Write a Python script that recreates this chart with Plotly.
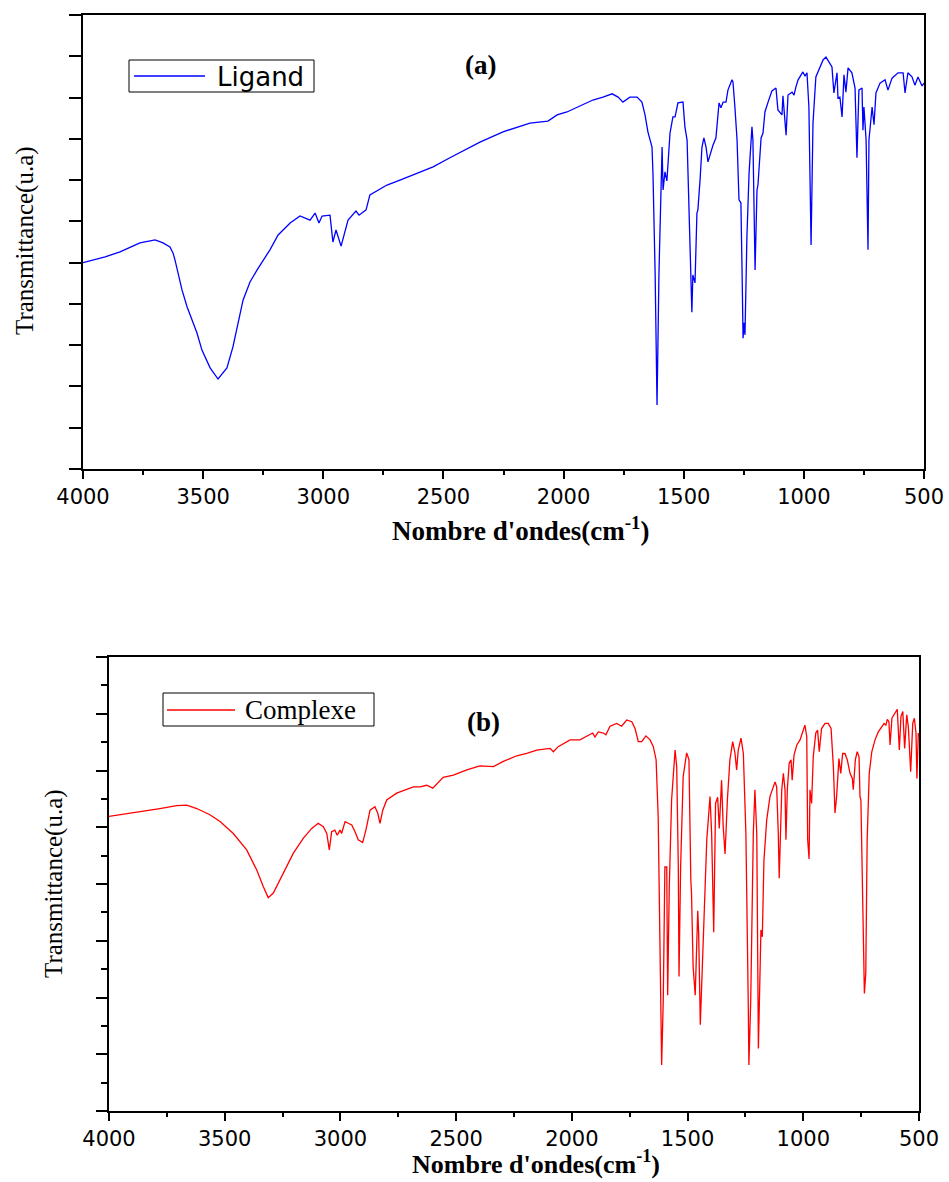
import plotly.graph_objects as go

# ---------------- data ----------------
x_tick_values = [4000, 3500, 3000, 2500, 2000, 1500, 1000, 500]

ligand_wn = [
    4000, 3908, 3846, 3763, 3700, 3667, 3638, 3625, 3617, 3588,
    3567, 3546, 3526, 3505, 3471, 3438, 3401, 3376, 3355, 3334,
    3305, 3276, 3222, 3188, 3138, 3097, 3055, 3034, 3018, 3005,
    2972, 2960, 2947, 2926, 2897, 2864, 2851, 2822, 2806, 2735,
    2681, 2610, 2543, 2473, 2402, 2348, 2252, 2140, 2065, 2027,
    1986, 1932, 1903, 1878, 1836, 1798, 1773, 1753, 1724, 1694,
    1674, 1661, 1649, 1632, 1628, 1619, 1611, 1603, 1590, 1586,
    1578, 1570, 1557, 1545, 1536, 1524, 1503, 1495, 1486, 1478,
    1470, 1466, 1462, 1453, 1445, 1441, 1432, 1424, 1416, 1407,
    1399, 1386, 1378, 1366, 1353, 1345, 1336, 1324, 1316, 1299,
    1295, 1287, 1278, 1270, 1262, 1257, 1253, 1249, 1245, 1237,
    1228, 1216, 1212, 1203, 1195, 1191, 1178, 1170, 1162, 1149,
    1133, 1116, 1108, 1091, 1087, 1074, 1066, 1049, 1041, 1033,
    1024, 1004, 995, 987, 979, 970, 962, 950, 933, 920,
    908, 895, 883, 875, 862, 858, 850, 841, 833, 825,
    816, 800, 787, 779, 771, 758, 754, 750, 741, 733,
    729, 716, 708, 700, 683, 662, 650, 633, 608, 587,
    579, 567, 550, 538, 525, 508, 500,
]
ligand_t = [
    50.0, 51.4, 52.6, 54.8, 55.5, 54.8, 53.8, 52.3, 50.6, 43.4,
    39.3, 36.1, 33.0, 28.8, 24.5, 21.8, 24.5, 29.6, 35.4, 40.9,
    45.3, 48.2, 53.1, 56.7, 59.6, 61.3, 60.3, 62.0, 59.6, 61.3,
    61.5, 55.0, 57.9, 54.0, 60.3, 62.5, 61.5, 62.8, 66.4, 68.8,
    70.0, 71.7, 73.2, 75.4, 77.5, 79.2, 81.7, 83.8, 84.3, 85.8,
    86.5, 88.0, 88.7, 89.4, 90.1, 90.9, 90.1, 88.9, 90.1, 90.1,
    88.9, 85.8, 81.7, 78.0, 71.7, 47.5, 15.5, 47.5, 78.0, 67.6,
    72.0, 69.8, 81.4, 85.3, 85.3, 88.7, 88.9, 82.9, 79.7, 63.5,
    47.5, 38.0, 47.0, 45.1, 62.0, 62.8, 70.0, 78.0, 80.2, 78.0,
    74.4, 77.3, 78.5, 80.2, 88.7, 87.5, 88.9, 88.9, 91.8, 94.3,
    93.8, 87.7, 79.7, 65.2, 64.5, 47.5, 31.7, 35.4, 32.5, 56.2,
    71.7, 82.9, 79.7, 48.2, 67.6, 68.8, 80.2, 81.4, 86.5, 88.9,
    91.6, 92.3, 87.0, 85.8, 90.4, 80.9, 90.6, 91.3, 90.6, 92.6,
    94.3, 96.2, 95.2, 96.0, 87.7, 54.3, 83.8, 95.0, 97.4, 99.1,
    99.8, 98.6, 97.4, 91.1, 96.0, 89.9, 90.1, 85.3, 95.5, 91.3,
    97.2, 96.0, 92.3, 75.4, 91.8, 92.3, 82.1, 87.7, 79.7, 53.1,
    79.7, 87.7, 83.4, 91.1, 93.5, 94.3, 91.8, 94.7, 96.0, 96.0,
    91.1, 96.0, 95.0, 93.0, 95.0, 92.8, 93.5,
]

complexe_wn = [
    4000, 3866, 3780, 3708, 3664, 3621, 3564, 3520, 3463, 3405,
    3362, 3333, 3312, 3290, 3247, 3204, 3160, 3124, 3096, 3074,
    3059, 3048, 3038, 3024, 3014, 3002, 2995, 2980, 2966, 2951,
    2937, 2923, 2904, 2890, 2872, 2851, 2839, 2829, 2817, 2800,
    2757, 2721, 2685, 2656, 2627, 2601, 2556, 2512, 2454, 2397,
    2339, 2296, 2238, 2195, 2152, 2094, 2080, 2059, 2008, 1965,
    1936, 1910, 1900, 1886, 1864, 1853, 1835, 1806, 1785, 1763,
    1741, 1727, 1713, 1698, 1680, 1662, 1648, 1636, 1627, 1619,
    1612, 1605, 1598, 1590, 1586, 1579, 1569, 1554, 1547, 1540,
    1537, 1530, 1519, 1504, 1494, 1486, 1483, 1476, 1467, 1456,
    1452, 1445, 1432, 1417, 1403, 1396, 1387, 1379, 1370, 1363,
    1353, 1346, 1338, 1328, 1317, 1305, 1295, 1288, 1281, 1269,
    1259, 1248, 1238, 1235, 1227, 1216, 1209, 1201, 1194, 1187,
    1183, 1177, 1170, 1158, 1144, 1122, 1115, 1108, 1104, 1093,
    1086, 1079, 1075, 1069, 1061, 1053, 1048, 1040, 1028, 1014,
    1000, 993, 985, 981, 975, 971, 964, 957, 946, 938,
    931, 921, 906, 892, 880, 870, 863, 856, 846, 838,
    830, 820, 810, 798, 788, 784, 775, 767, 759, 755,
    751, 743, 736, 730, 724, 715, 704, 690, 676, 661,
    651, 643, 637, 630, 625, 617, 604, 594, 585, 578,
    570, 562, 553, 546, 536, 527, 520, 513, 509, 503,
    500,
]
complexe_t = [
    51.9, 52.7, 53.3, 53.8, 53.9, 53.3, 52.2, 51.0, 48.9, 46.0,
    42.5, 39.5, 37.6, 38.4, 41.9, 45.4, 48.1, 49.8, 50.7, 50.1,
    48.9, 46.0, 49.2, 49.5, 48.6, 49.5, 48.9, 51.0, 50.7, 50.4,
    49.2, 47.8, 47.3, 49.5, 53.0, 53.6, 52.5, 50.7, 53.0, 54.8,
    56.0, 56.6, 57.1, 57.1, 57.4, 56.9, 58.8, 59.2, 60.1, 60.8,
    60.7, 61.6, 62.6, 63.0, 63.6, 63.9, 63.3, 64.2, 65.4, 65.4,
    66.0, 66.6, 65.9, 66.8, 66.6, 66.3, 67.8, 68.3, 67.8, 68.9,
    68.6, 67.4, 65.1, 65.1, 66.1, 65.4, 64.2, 61.9, 51.9, 31.3,
    8.1, 19.6, 43.0, 43.0, 20.4, 39.5, 54.8, 63.6, 60.7, 43.0,
    23.7, 43.0, 58.9, 63.1, 61.9, 40.7, 38.4, 25.4, 20.4, 35.3,
    31.3, 15.2, 31.3, 47.8, 55.4, 48.9, 31.5, 54.2, 55.3, 49.8,
    58.3, 50.1, 45.3, 54.8, 61.9, 65.1, 63.0, 60.1, 63.6, 65.7,
    63.0, 48.9, 19.6, 8.1, 19.6, 48.9, 56.6, 48.9, 11.0, 25.4,
    31.9, 30.7, 44.2, 51.3, 55.4, 58.0, 57.1, 48.9, 41.0, 56.6,
    59.5, 56.6, 47.8, 56.6, 61.3, 61.9, 58.3, 62.7, 64.5, 65.4,
    67.4, 68.0, 66.0, 47.8, 44.4, 56.6, 54.2, 62.4, 66.6, 67.1,
    63.3, 67.4, 68.3, 68.3, 67.4, 60.7, 52.5, 55.4, 62.1, 59.5,
    63.0, 63.0, 61.9, 59.5, 58.6, 56.6, 61.9, 63.3, 62.4, 55.4,
    54.8, 33.1, 20.7, 24.3, 47.8, 59.5, 63.3, 65.4, 66.8, 67.7,
    68.3, 68.0, 69.0, 68.6, 64.5, 69.2, 70.1, 70.8, 63.6, 69.5,
    70.4, 63.9, 69.8, 67.7, 59.8, 68.3, 69.2, 66.6, 58.6, 66.6,
    66.0,
]

series_names = ["Ligand", "Complexe"]
series_colors = ["#0000ff", "#ff0000"]

assert len(ligand_wn) == len(ligand_t)
assert len(complexe_wn) == len(complexe_t)

# ---------------- figure ----------------
W, H = 949, 1182
SERIF = "Liberation Serif"
SANS = "DejaVu Sans"


def px(x):
    return x / W


def py(y):
    return 1 - y / H


fig = go.Figure()
fig.add_trace(go.Scatter(
    x=ligand_wn, y=ligand_t, mode="lines", name=series_names[0],
    line=dict(color=series_colors[0], width=1.3), xaxis="x", yaxis="y",
    showlegend=False,
))
fig.add_trace(go.Scatter(
    x=complexe_wn, y=complexe_t, mode="lines", name=series_names[1],
    line=dict(color=series_colors[1], width=1.3), xaxis="x2", yaxis="y2",
    showlegend=False,
))

axis_common = dict(
    showline=True, linecolor="black", linewidth=1.5, mirror=True,
    ticks="outside", tickcolor="black", tickwidth=1.5,
    showgrid=False, zeroline=False, automargin=False,
)
xtickfont = dict(family=SANS, size=21, color="black")
xminor = dict(dtick=250, tick0=500, ticklen=4, ticks="outside",
              tickcolor="black", tickwidth=1.5)

fig.update_layout(
    width=W, height=H,
    margin=dict(l=0, r=0, t=0, b=0, autoexpand=False),
    paper_bgcolor="white", plot_bgcolor="white",
    showlegend=False,
    xaxis=dict(
        **axis_common, domain=[px(83), px(924)], anchor="y",
        range=[4000, 500], tickvals=x_tick_values, ticklen=8,
        tickfont=xtickfont, minor=xminor,
    ),
    yaxis=dict(
        **axis_common, domain=[py(469), py(15)], anchor="x",
        range=[0, 110], tick0=0, dtick=10, ticklen=12,
        showticklabels=False,
    ),
    xaxis2=dict(
        **axis_common, domain=[px(109), px(919)], anchor="y2",
        range=[4000, 500], tickvals=x_tick_values, ticklen=8,
        tickfont=xtickfont, minor=xminor,
    ),
    yaxis2=dict(
        **axis_common, domain=[py(1111), py(657)], anchor="x2",
        range=[0, 80], tick0=0, dtick=10, ticklen=11,
        showticklabels=False,
        minor=dict(dtick=5, tick0=0, ticklen=6, ticks="outside",
                   tickcolor="black", tickwidth=1.5),
    ),
)

# legend boxes (drawn like the reference: framed box, long sample line, label)
shapes = [
    dict(type="rect", xref="paper", yref="paper",
         x0=px(129), x1=px(314), y0=py(92), y1=py(60),
         line=dict(color="black", width=1), fillcolor="rgba(0,0,0,0)"),
    dict(type="line", xref="paper", yref="paper",
         x0=px(134), x1=px(205), y0=py(76), y1=py(76),
         line=dict(color=series_colors[0], width=1.3)),
    dict(type="rect", xref="paper", yref="paper",
         x0=px(163), x1=px(374), y0=py(726), y1=py(693),
         line=dict(color="black", width=1), fillcolor="rgba(0,0,0,0)"),
    dict(type="line", xref="paper", yref="paper",
         x0=px(167), x1=px(235), y0=py(710), y1=py(710),
         line=dict(color=series_colors[1], width=1.3)),
]

xtitle = "<b>Nombre d'ondes(cm<sup>-1</sup>)</b>"
ann = [
    dict(text=series_names[0], x=px(215), y=py(77), xanchor="left",
         yanchor="middle", font=dict(family=SANS, size=26, color="black")),
    dict(text=series_names[1], x=px(243), y=py(710), xanchor="left",
         yanchor="middle", font=dict(family=SERIF, size=27, color="black")),
    dict(text="<b>(a)</b>", x=px(480), y=py(65),
         font=dict(family=SERIF, size=27, color="black")),
    dict(text="<b>(b)</b>", x=px(483), y=py(722),
         font=dict(family=SERIF, size=27, color="black")),
    dict(text=xtitle, x=px(521), y=py(529),
         font=dict(family=SERIF, size=27, color="black")),
    dict(text=xtitle, x=px(536), y=py(1181), yanchor="bottom",
         font=dict(family=SERIF, size=26, color="black")),
    dict(text="Transmittance(u.a)", x=px(25), y=py(241), textangle=-90,
         font=dict(family=SERIF, size=25, color="black")),
    dict(text="Transmittance(u.a)", x=px(54), y=py(884), textangle=-90,
         font=dict(family=SERIF, size=25, color="black")),
]
for a in ann:
    a.setdefault("xanchor", "center")
    a.setdefault("yanchor", "middle")
    a.update(xref="paper", yref="paper", showarrow=False)

fig.update_layout(annotations=ann, shapes=shapes)

fig.write_html("out.html")
